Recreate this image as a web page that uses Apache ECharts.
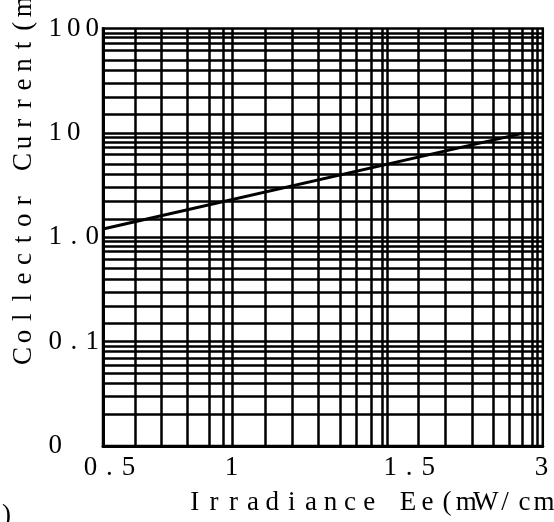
<!DOCTYPE html>
<html>
<head>
<meta charset="utf-8">
<title>Collector Current vs Irradiance</title>
<script src="https://cdn.jsdelivr.net/npm/echarts@6/dist/echarts.min.js"></script>
<style>
html, body { margin: 0; padding: 0; background: #fff; }
#container { width: 554px; height: 522px; }
</style>
</head>
<body>
<div id="container"></div>
<script type="text/javascript">
// x is a chart-paper scale (1 unit = the first printed cycle 0.5 -> 1)
var xMax = 3.39;
var xTickAt = [0.05, 0.99, 2.36, 3.38];
var xTickLabels = ['0.5', '1', '1.5', '3'];
var xGridAt = [0.25, 0.45, 0.65, 0.82, 0.93, 1.0, 1.25, 1.46, 1.66, 1.83, 1.95, 2.07, 2.15, 2.19,
	2.43, 2.64, 2.85, 3.01, 3.13, 3.23, 3.31, 3.35];

// y is log, 0.01 .. 100 (the bottom decade is printed as "0")
var yTickValues = [0.01, 0.1, 1, 10, 100];
var yTickLabels = ['0', '0.1', '1.0', '10', '100'];
var yDecades = [0.01, 0.1, 1, 10];
var yMinorSteps = [1.5, 2.2, 3, 4, 5, 6.2, 7.3, 8.2, 9.1];

// the curve
var curveX = [0, 3.25];
var curveY = [1.2, 10];

var FONT = '"Liberation Serif", "DejaVu Serif", serif';

// wrap every character in a fixed-width cell, like the wide-spaced original
function spaced(s) {
	return s.split('').map(function (c) {
		return '{c|' + (c === ' ' ? '\u00a0' : c) + '}';
	}).join('');
}
function cell(w) {
	return { width: w, align: 'center', fontFamily: FONT, fontSize: 27, lineHeight: 26, color: '#000' };
}

function initChart() {
	var dom = document.getElementById('container');
	var myChart = echarts.init(dom, null, { renderer: 'canvas' });

	var grid = [];
	for (var i = 0; i < xGridAt.length; i++) {
		grid.push({ xAxis: xGridAt[i] });
	}
	for (var d = 0; d < yDecades.length; d++) {
		grid.push({ yAxis: yDecades[d] });
		for (var k = 0; k < yMinorSteps.length; k++) {
			grid.push({ yAxis: yDecades[d] * yMinorSteps[k] });
		}
	}

	var curve = [];
	for (var j = 0; j < curveX.length; j++) {
		curve.push([curveX[j], curveY[j]]);
	}

	var option = {
		backgroundColor: '#fff',
		animation: false,
		grid: {
			left: 103, right: 10, top: 28.5, bottom: 76,
			show: true, borderColor: '#000', borderWidth: 2.5, backgroundColor: 'transparent'
		},
		xAxis: {
			type: 'value',
			min: 0,
			max: xMax,
			axisLine: { show: true, onZero: false, lineStyle: { color: '#000', width: 3 } },
			axisTick: { show: false },
			splitLine: { show: false },
			axisLabel: {
				customValues: xTickAt,
				margin: 9,
				formatter: function (v) {
					for (var i = 0; i < xTickAt.length; i++) {
						if (Math.abs(xTickAt[i] - v) < 1e-6) return spaced(xTickLabels[i]);
					}
					return '';
				},
				rich: { c: cell(19) }
			}
		},
		yAxis: {
			type: 'log',
			logBase: 10,
			min: 0.01,
			max: 100,
			axisLine: { show: true, lineStyle: { color: '#000', width: 3 } },
			axisTick: { show: false },
			splitLine: { show: false },
			axisLabel: {
				align: 'left',
				margin: 57,
				formatter: function (v) {
					for (var i = 0; i < yTickValues.length; i++) {
						if (Math.abs(Math.log10(yTickValues[i]) - Math.log10(v)) < 1e-6) return spaced(yTickLabels[i]);
					}
					return '';
				},
				rich: { c: cell(18.5) }
			}
		},
		graphic: [
			{
				type: 'text', x: 185, y: 490,
				style: { text: spaced('Irradiance Ee(mW/cm\u00b2)'), rich: { c: cell(19.4) } }
			},
			{
				type: 'text', x: 24, y: 162, rotation: Math.PI / 2,
				style: {
					text: spaced('Collector Current(mA)'), rich: { c: cell(19.4) },
					align: 'center', verticalAlign: 'middle'
				}
			},
			{
				type: 'text', x: 2, y: 502,
				style: { text: ')', fontFamily: FONT, fontSize: 27, fill: '#000' }
			}
		],
		series: [{
			type: 'line',
			data: curve,
			showSymbol: false,
			lineStyle: { color: '#000', width: 3 },
			silent: true,
			markLine: {
				silent: true,
				symbol: ['none', 'none'],
				label: { show: false },
				lineStyle: { color: '#000', width: 2.5, type: 'solid' },
				data: grid
			}
		}]
	};
	myChart.setOption(option, true);
}

initChart();
</script>
</body>
</html>
